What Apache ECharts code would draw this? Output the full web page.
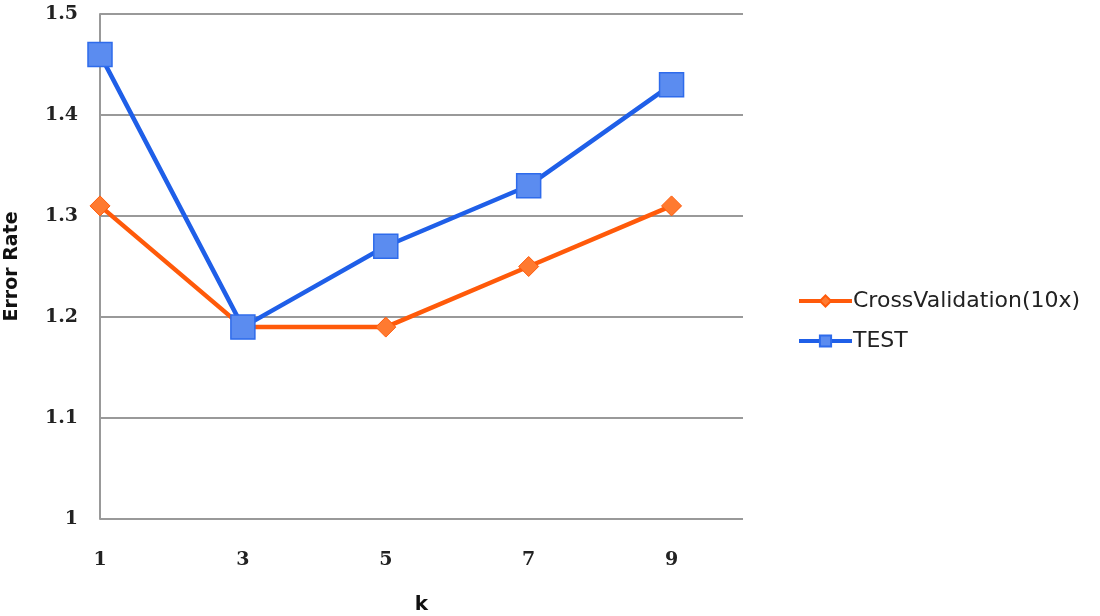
<!DOCTYPE html>
<html><head><meta charset="utf-8">
<script src="https://cdn.jsdelivr.net/npm/echarts@6/dist/echarts.min.js"></script>
<style>html,body{margin:0;padding:0;background:#fff}#c{width:1100px;height:616px}</style>
</head><body><div id="c"></div>
<script>
const kValues = [1, 3, 5, 7, 9];
const crossValidation = [1.31, 1.19, 1.19, 1.25, 1.31];
const testErr = [1.46, 1.19, 1.27, 1.33, 1.43];
const yTicks = [1, 1.1, 1.2, 1.3, 1.4, 1.5];

const chart = echarts.init(document.getElementById('c'));
const serif = '"DejaVu Serif", "Liberation Serif", serif';
const sans = '"DejaVu Sans", "Liberation Sans", sans-serif';
chart.setOption({
  animation: false,
  backgroundColor: '#fff',
  grid: { left: 100, right: 357, top: 14, bottom: 97, outerBoundsMode: 'none', containLabel: false },
  legend: {
    orient: 'vertical', left: 792, top: 285, itemGap: 18,
    itemWidth: 53, itemHeight: 14,
    lineStyle: { width: 4 },
    textStyle: { fontFamily: sans, fontSize: 22, color: '#222', padding: [0, 0, 0, -4] },
    data: ['CrossValidation(10x)', 'TEST']
  },
  xAxis: {
    type: 'value', min: 1, max: 10, interval: 1,
    name: 'k', nameLocation: 'middle', nameGap: 76,
    nameTextStyle: { fontFamily: sans, fontWeight: 'bold', fontSize: 20, color: '#111' },
    axisLine: { show: false }, axisTick: { show: false }, splitLine: { show: false },
    axisLabel: {
      margin: 32, fontFamily: serif, fontWeight: 'bold', fontSize: 19, color: '#222',
      formatter: v => kValues.indexOf(v) >= 0 ? String(v) : ''
    }
  },
  yAxis: {
    type: 'value', min: 1, max: 1.5, interval: 0.1,
    name: 'Error Rate', nameLocation: 'middle', nameGap: 78, nameRotate: 90,
    nameTextStyle: { fontFamily: sans, fontWeight: 'bold', fontSize: 19, color: '#111' },
    axisLine: { show: true, lineStyle: { color: '#999', width: 2 } },
    axisTick: { show: false },
    splitLine: { lineStyle: { color: '#999', width: 2 } },
    axisLabel: {
      margin: 22, fontFamily: serif, fontWeight: 'bold', fontSize: 19, color: '#222',
      formatter: v => { const t = yTicks.find(y => Math.abs(y - v) < 1e-6); return t === undefined ? '' : String(t); }
    }
  },
  series: [
    {
      name: 'CrossValidation(10x)', type: 'line',
      data: kValues.map((k, i) => [k, crossValidation[i]]),
      symbol: 'diamond', symbolSize: 20,
      lineStyle: { color: '#FF5A0A', width: 4.5 },
      itemStyle: { color: '#FF7A30', borderColor: '#FF5A0A', borderWidth: 1 },
      z: 2
    },
    {
      name: 'TEST', type: 'line',
      data: kValues.map((k, i) => [k, testErr[i]]),
      symbol: 'rect', symbolSize: 24,
      lineStyle: { color: '#1F5FE8', width: 4.5 },
      itemStyle: { color: '#5B8CF0', borderColor: '#2E6BEB', borderWidth: 1.5 },
      z: 3
    }
  ]
});
</script></body></html>
